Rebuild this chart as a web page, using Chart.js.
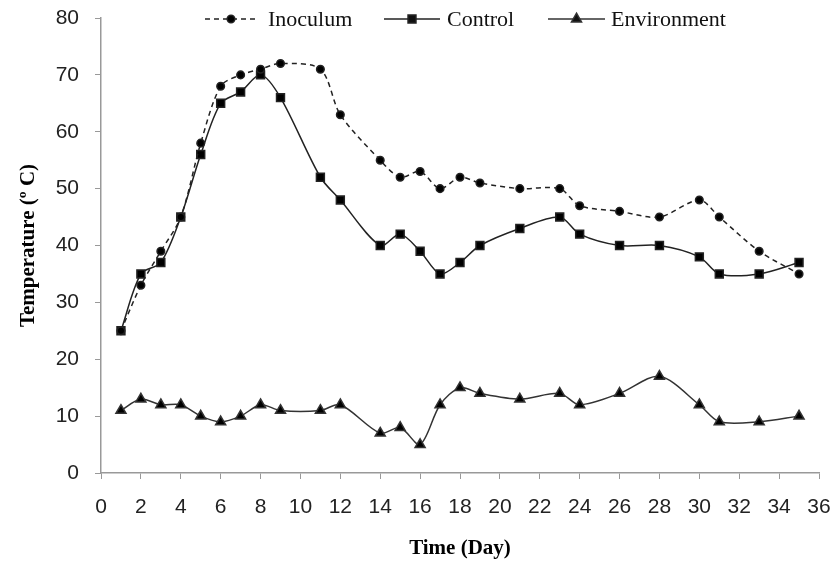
<!DOCTYPE html>
<html>
<head>
<meta charset="utf-8">
<script src="https://cdn.jsdelivr.net/npm/chart.js@4/dist/chart.umd.min.js"></script>
<style>
  html, body { margin: 0; padding: 0; background: #fff; }
  #wrap { width: 839px; height: 565px; }
</style>
</head>
<body>
<div id="wrap"><canvas id="chart"></canvas></div>
<script>
// sampling days
const days = [1, 2, 3, 4, 5, 6, 7, 8, 9, 11, 12, 14, 15, 16, 17, 18, 19, 21, 23, 24, 26, 28, 30, 31, 33, 35];

// temperatures
const inoculum = [25, 33, 39, 45, 58, 68, 70, 71, 72, 71, 63, 55, 52, 53, 50, 52, 51, 50, 50, 47, 46, 45, 48, 45, 39, 35];
const control = [25, 35, 37, 45, 56, 65, 67, 70, 66, 52, 48, 40, 42, 39, 35, 37, 40, 43, 45, 42, 40, 40, 38, 35, 35, 37];
const environment = [11, 13, 12, 12, 10, 9, 10, 12, 11, 11, 12, 7, 8, 5, 12, 15, 14, 13, 14, 12, 14, 17, 12, 9, 9, 10];

const seriesNames = ['Inoculum', 'Control', 'Environment'];
const xTitle = 'Time (Day)';
const yTitle = 'Temperature (º C)';

const toPoints = (vals) => days.map((d, i) => ({ x: d, y: vals[i] }));

const tickFont = { family: "'Liberation Sans', Arial, sans-serif", size: 21 };
const xTickFont = { family: "'Liberation Sans Narrow', 'Liberation Sans', Arial, sans-serif", size: 21 };
const titleFont = { family: "'Liberation Serif', 'Times New Roman', serif", size: 21, weight: 'bold' };

// legend drawn over the top of the plot, like the original
const legendPlugin = {
  id: 'topLegend',
  afterDraw(chart) {
    const ctx = chart.ctx;
    const y = 19;
    const items = [
      { x0: 205, x1: 257, text: 268 },
      { x0: 384, x1: 440, text: 447 },
      { x0: 548, x1: 605, text: 611 }
    ];
    ctx.save();
    items.forEach((it, i) => {
      const ds = chart.data.datasets[i];
      ctx.strokeStyle = ds.borderColor;
      ctx.lineWidth = ds.borderWidth;
      ctx.setLineDash(ds.borderDash || []);
      ctx.beginPath();
      ctx.moveTo(it.x0, y);
      ctx.lineTo(it.x1, y);
      ctx.stroke();
      ctx.setLineDash([]);
      Chart.helpers.drawPoint(ctx, {
        pointStyle: ds.pointStyle,
        radius: ds.pointRadius,
        borderWidth: 1
      }, (it.x0 + it.x1) / 2, y);
      ctx.fillStyle = '#111';
      ctx.font = "22px 'Liberation Serif', 'Times New Roman', serif";
      ctx.textBaseline = 'middle';
      ctx.textAlign = 'left';
      ctx.fillText(ds.label, it.text, y + 1);
    });
    ctx.restore();
  }
};

new Chart(document.getElementById('chart'), {
  type: 'line',
  data: {
    datasets: [
      {
        label: seriesNames[0],
        data: toPoints(inoculum),
        borderColor: '#222',
        backgroundColor: '#000',
        borderWidth: 1.5,
        borderDash: [5, 4],
        pointStyle: 'circle',
        pointRadius: 3.8,
        tension: 0.3
      },
      {
        label: seriesNames[1],
        data: toPoints(control),
        borderColor: '#222',
        backgroundColor: '#000',
        borderWidth: 1.5,
        pointStyle: 'rect',
        pointRadius: 5.6,
        tension: 0.3
      },
      {
        label: seriesNames[2],
        data: toPoints(environment),
        borderColor: '#333',
        backgroundColor: '#000',
        borderWidth: 1.5,
        pointStyle: 'triangle',
        pointRadius: 5.8,
        tension: 0.3
      }
    ]
  },
  options: {
    responsive: true,
    maintainAspectRatio: false,
    animation: false,
    layout: { padding: { top: 18, right: 20, bottom: 0, left: 0 } },
    plugins: {
      legend: { display: false },
      tooltip: { enabled: false }
    },
    scales: {
      x: {
        type: 'linear',
        min: 0,
        max: 36,
        ticks: { stepSize: 2, font: xTickFont, color: '#222', padding: 16, maxRotation: 0, autoSkip: false },
        grid: { drawOnChartArea: false, drawTicks: true, tickLength: 6, color: '#999' },
        border: { color: '#999', width: 1.5 },
        title: { display: true, text: xTitle, font: titleFont, color: '#000', padding: { top: 4, bottom: 4 } },
        afterFit(scale) {
          scale.height = 92;
          scale.paddingLeft = 0;
          scale.paddingRight = 0;
        }
      },
      y: {
        min: 0,
        max: 80,
        ticks: { stepSize: 10, font: tickFont, color: '#222', padding: 16 },
        grid: { drawOnChartArea: false, drawTicks: true, tickLength: 6, color: '#999' },
        border: { color: '#999', width: 1.5 },
        title: { display: true, text: yTitle, font: titleFont, color: '#000', padding: { top: 16, bottom: 4 } },
        afterFit(scale) {
          scale.width = 101;
          scale.paddingTop = 0;
          scale.paddingBottom = 0;
        }
      }
    }
  },
  plugins: [legendPlugin]
});
</script>
</body>
</html>
